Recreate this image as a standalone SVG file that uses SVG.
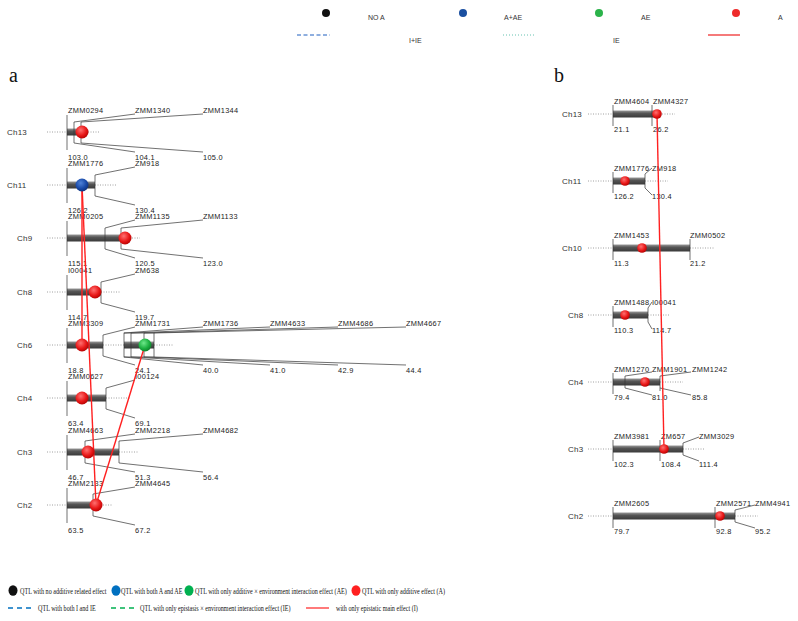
<svg xmlns="http://www.w3.org/2000/svg" width="798" height="621" viewBox="0 0 798 621">
<style>
.t{font-family:"Liberation Sans",Arial,sans-serif;font-size:7.4px;letter-spacing:0.3px;fill:#222}
.ch{font-family:"Liberation Sans",Arial,sans-serif;font-size:8px;letter-spacing:0.2px;fill:#333}
.lg{font-family:"Liberation Sans",Arial,sans-serif;font-size:7px;fill:#333}
.bl{font-family:"Liberation Serif","Times New Roman",serif;font-size:9px;fill:#111}
.pn{font-family:"Liberation Serif","Times New Roman",serif;font-size:20px;fill:#111}
.ln{stroke:#333;stroke-width:0.7;fill:none}
.dt{stroke:#888;stroke-width:0.8;stroke-dasharray:1 1.5;fill:none}
.ep{stroke:#ff2020;stroke-width:1.4;fill:none}
</style>
<defs>
<linearGradient id="bar" x1="0" y1="0" x2="0" y2="1">
<stop offset="0" stop-color="#9a9a9a"/><stop offset="0.4" stop-color="#555"/><stop offset="1" stop-color="#3a3a3a"/>
</linearGradient>
<radialGradient id="red" cx="0.4" cy="0.35" r="0.7">
<stop offset="0" stop-color="#ff7070"/><stop offset="0.6" stop-color="#e81818"/><stop offset="1" stop-color="#b00000"/>
</radialGradient>
<radialGradient id="blue" cx="0.4" cy="0.35" r="0.7">
<stop offset="0" stop-color="#4f82d8"/><stop offset="0.6" stop-color="#1a4aa8"/><stop offset="1" stop-color="#0d2f78"/>
</radialGradient>
<radialGradient id="green" cx="0.4" cy="0.35" r="0.7">
<stop offset="0" stop-color="#6ee88a"/><stop offset="0.6" stop-color="#1cb040"/><stop offset="1" stop-color="#0b7a28"/>
</radialGradient>
</defs>
<rect width="798" height="621" fill="#fff"/>

<g id="top-legend">
<circle cx="326" cy="13" r="4" fill="#111"/><text class="lg" x="368" y="20">NO A</text>
<circle cx="463" cy="13" r="4" fill="#1a4fa0"/><text class="lg" x="504" y="20">A+AE</text>
<circle cx="599" cy="13" r="4" fill="#2bb34a"/><text class="lg" x="641" y="20">AE</text>
<circle cx="736" cy="13" r="4" fill="#ee2b2b"/><text class="lg" x="778" y="20">A</text>
<line x1="297" y1="35" x2="330" y2="35" stroke="#1f5fbf" stroke-width="1" stroke-dasharray="4 2.5"/>
<text class="lg" x="409" y="43">I+IE</text>
<line x1="503" y1="35" x2="536" y2="35" stroke="#66c2b0" stroke-width="1" stroke-dasharray="1 2"/>
<text class="lg" x="613" y="43">IE</text>
<line x1="708" y1="35" x2="740" y2="35" stroke="#ee2020" stroke-width="1.2"/>
</g>

<text class="pn" x="9" y="82">a</text>
<text class="pn" x="554" y="82">b</text>

<g id="a-ch13">
<text class="ch" x="7" y="135">Ch13</text>
<line class="dt" x1="47" y1="132" x2="67" y2="132"/><line class="dt" x1="88" y1="132" x2="100" y2="132"/>
<rect x="67" y="128.5" width="14" height="7" fill="url(#bar)"/>
<path class="ln" d="M67,115V150M74,122V143M81,122V143M74,122L135,114M81,122L203,114M74,143L135,152M81,143L203,152"/>
<text class="t" x="68" y="113">ZMM0294</text><text class="t" x="135" y="113">ZMM1340</text><text class="t" x="203" y="113">ZMM1344</text>
<text class="t" x="68" y="160">103.0</text><text class="t" x="135" y="160">104.1</text><text class="t" x="203" y="160">105.0</text>
</g>
<g id="a-ch11">
<text class="ch" x="7" y="188">Ch11</text>
<line class="dt" x1="47" y1="185" x2="67" y2="185"/><line class="dt" x1="95" y1="185" x2="117" y2="185"/>
<rect x="67" y="181.5" width="28" height="7" fill="url(#bar)"/>
<path class="ln" d="M67,168V203M95,175V196M95,175L135,167M95,196L135,205"/>
<text class="t" x="68" y="166">ZMM1776</text><text class="t" x="135" y="166">ZM918</text>
<text class="t" x="68" y="213">126.2</text><text class="t" x="135" y="213">130.4</text>
</g>
<g id="a-ch9">
<text class="ch" x="17" y="241">Ch9</text>
<line class="dt" x1="47" y1="238" x2="67" y2="238"/><line class="dt" x1="132" y1="238" x2="140" y2="238"/>
<rect x="67" y="234.5" width="54" height="7" fill="url(#bar)"/>
<path class="ln" d="M67,221V256M105,228V249M121,228V249M105,228L135,220M121,228L203,220M105,249L135,258M121,249L203,258"/>
<text class="t" x="68" y="219">ZMM0205</text><text class="t" x="135" y="219">ZMM1135</text><text class="t" x="203" y="219">ZMM1133</text>
<text class="t" x="68" y="266">115.1</text><text class="t" x="135" y="266">120.5</text><text class="t" x="203" y="266">123.0</text>
</g>
<g id="a-ch8">
<text class="ch" x="17" y="295">Ch8</text>
<line class="dt" x1="47" y1="292" x2="67" y2="292"/><line class="dt" x1="101" y1="292" x2="120" y2="292"/>
<rect x="67" y="288.5" width="34" height="7" fill="url(#bar)"/>
<path class="ln" d="M67,275V310M101,282V303M101,282L135,274M101,303L135,312"/>
<text class="t" x="68" y="273">I00041</text><text class="t" x="135" y="273">ZM638</text>
<text class="t" x="68" y="320">114.7</text><text class="t" x="135" y="320">119.7</text>
</g>
<g id="a-ch6">
<text class="ch" x="17" y="348">Ch6</text>
<line class="dt" x1="47" y1="345" x2="67" y2="345"/><line class="dt" x1="103" y1="345" x2="124" y2="345"/><line class="dt" x1="154" y1="345" x2="173" y2="345"/>
<rect x="67" y="341.5" width="36" height="7" fill="url(#bar)"/>
<rect x="124" y="341.5" width="30" height="7" fill="url(#bar)"/>
<path class="ln" d="M67,328V363M103,335V356M103,335L135,327M103,356L135,365"/>
<rect class="ln" x="124" y="333" width="30" height="24"/>
<path class="ln" d="M131,333V357M144,333V357M124,333L203,327M131,333L270,327M144,333L338,327M154,333L406,327M124,357L203,365M131,357L270,365M144,357L338,365M154,357L406,365"/>
<text class="t" x="68" y="326">ZMM3309</text><text class="t" x="135" y="326">ZMM1731</text><text class="t" x="203" y="326">ZMM1736</text><text class="t" x="270" y="326">ZMM4633</text><text class="t" x="338" y="326">ZMM4686</text><text class="t" x="406" y="326">ZMM4667</text>
<text class="t" x="68" y="373">18.8</text><text class="t" x="135" y="373">24.1</text><text class="t" x="203" y="373">40.0</text><text class="t" x="270" y="373">41.0</text><text class="t" x="338" y="373">42.9</text><text class="t" x="406" y="373">44.4</text>
</g>
<g id="a-ch4">
<text class="ch" x="17" y="401">Ch4</text>
<line class="dt" x1="47" y1="398" x2="67" y2="398"/><line class="dt" x1="106" y1="398" x2="130" y2="398"/>
<rect x="67" y="394.5" width="39" height="7" fill="url(#bar)"/>
<path class="ln" d="M67,381V416M106,388V409M106,388L135,380M106,409L135,418"/>
<text class="t" x="68" y="379">ZMM0627</text><text class="t" x="135" y="379">I00124</text>
<text class="t" x="68" y="426">63.4</text><text class="t" x="135" y="426">69.1</text>
</g>
<g id="a-ch3">
<text class="ch" x="17" y="455">Ch3</text>
<line class="dt" x1="47" y1="452" x2="67" y2="452"/><line class="dt" x1="119" y1="452" x2="138" y2="452"/>
<rect x="67" y="448.5" width="52" height="7" fill="url(#bar)"/>
<path class="ln" d="M67,435V470M85,441V463M119,441V463M85,441L135,434M119,441L203,434M85,463L135,472M119,463L203,472"/>
<text class="t" x="68" y="433">ZMM4663</text><text class="t" x="135" y="433">ZMM2218</text><text class="t" x="203" y="433">ZMM4682</text>
<text class="t" x="68" y="480">46.7</text><text class="t" x="135" y="480">51.3</text><text class="t" x="203" y="480">56.4</text>
</g>
<g id="a-ch2">
<text class="ch" x="17" y="508">Ch2</text>
<line class="dt" x1="47" y1="505" x2="67" y2="505"/><line class="dt" x1="103" y1="505" x2="112" y2="505"/>
<rect x="67" y="501.5" width="26" height="7" fill="url(#bar)"/>
<path class="ln" d="M67,488V523M93,494V516M93,494L135,487M93,516L135,525"/>
<text class="t" x="68" y="486">ZMM2133</text><text class="t" x="135" y="486">ZMM4645</text>
<text class="t" x="68" y="533">63.5</text><text class="t" x="135" y="533">67.2</text>
</g>

<g id="b-ch13">
<text class="ch" x="562" y="117">Ch13</text>
<line class="dt" x1="588" y1="114" x2="613" y2="114"/><line class="dt" x1="662" y1="114" x2="675" y2="114"/>
<rect x="613" y="110.5" width="42" height="7" fill="url(#bar)"/>
<path class="ln" d="M613,105V126M652,105V126"/>
<text class="t" x="614" y="104">ZMM4604</text><text class="t" x="653" y="104">ZMM4327</text>
<text class="t" x="614" y="132">21.1</text><text class="t" x="653" y="132">26.2</text>
</g>
<g id="b-ch11">
<text class="ch" x="562" y="184">Ch11</text>
<line class="dt" x1="588" y1="181" x2="613" y2="181"/><line class="dt" x1="645" y1="181" x2="668" y2="181"/>
<rect x="613" y="177.5" width="32" height="7" fill="url(#bar)"/>
<path class="ln" d="M613,172V193M645,174V188M645,174L652,168M645,188L652,195"/>
<text class="t" x="614" y="171">ZMM1776</text><text class="t" x="652" y="171">ZM918</text>
<text class="t" x="614" y="199">126.2</text><text class="t" x="652" y="199">130.4</text>
</g>
<g id="b-ch10">
<text class="ch" x="562" y="251">Ch10</text>
<line class="dt" x1="588" y1="248" x2="613" y2="248"/><line class="dt" x1="690" y1="248" x2="715" y2="248"/>
<rect x="613" y="244.5" width="77" height="7" fill="url(#bar)"/>
<path class="ln" d="M613,239V260M690,239V260"/>
<text class="t" x="614" y="238">ZMM1453</text><text class="t" x="690" y="238">ZMM0502</text>
<text class="t" x="614" y="266">11.3</text><text class="t" x="690" y="266">21.2</text>
</g>
<g id="b-ch8">
<text class="ch" x="568" y="318">Ch8</text>
<line class="dt" x1="588" y1="315" x2="613" y2="315"/><line class="dt" x1="648" y1="315" x2="670" y2="315"/>
<rect x="613" y="311.5" width="35" height="7" fill="url(#bar)"/>
<path class="ln" d="M613,306V327M648,308V322M648,308L652,302M648,322L652,329"/>
<text class="t" x="614" y="305">ZMM1488</text><text class="t" x="652" y="305">I00041</text>
<text class="t" x="614" y="333">110.3</text><text class="t" x="652" y="333">114.7</text>
</g>
<g id="b-ch4">
<text class="ch" x="568" y="385">Ch4</text>
<line class="dt" x1="588" y1="382" x2="613" y2="382"/><line class="dt" x1="660" y1="382" x2="683" y2="382"/>
<rect x="613" y="378.5" width="47" height="7" fill="url(#bar)"/>
<path class="ln" d="M613,373V394M625,376V388M625,376L652,372M625,388L652,395M660,376V391M660,376L691,372M660,388L691,395"/>
<text class="t" x="614" y="372">ZMM1270</text><text class="t" x="652" y="372">ZMM1901</text><text class="t" x="692" y="372">ZMM1242</text>
<text class="t" x="614" y="400">79.4</text><text class="t" x="652" y="400">81.0</text><text class="t" x="692" y="400">85.8</text>
</g>
<g id="b-ch3">
<text class="ch" x="568" y="452">Ch3</text>
<line class="dt" x1="588" y1="449" x2="613" y2="449"/><line class="dt" x1="683" y1="449" x2="705" y2="449"/>
<rect x="613" y="445.5" width="70" height="7" fill="url(#bar)"/>
<path class="ln" d="M613,440V461M660,440V461M683,443V455M683,443L699,437M683,455L699,461"/>
<text class="t" x="614" y="439">ZMM3981</text><text class="t" x="661" y="439">ZM657</text><text class="t" x="699" y="439">ZMM3029</text>
<text class="t" x="614" y="467">102.3</text><text class="t" x="661" y="467">108.4</text><text class="t" x="699" y="467">111.4</text>
</g>
<g id="b-ch2">
<text class="ch" x="568" y="519">Ch2</text>
<line class="dt" x1="588" y1="516" x2="613" y2="516"/><line class="dt" x1="735" y1="516" x2="758" y2="516"/>
<rect x="613" y="512.5" width="122" height="7" fill="url(#bar)"/>
<path class="ln" d="M613,507V528M715,507V528M735,510V522M735,510L755,505M735,522L755,528"/>
<text class="t" x="614" y="506">ZMM2605</text><text class="t" x="716" y="506">ZMM2571</text><text class="t" x="755" y="506">ZMM4941</text>
<text class="t" x="614" y="534">79.7</text><text class="t" x="716" y="534">92.8</text><text class="t" x="755" y="534">95.2</text>
</g>

<g id="connectors">
<line class="ep" x1="82" y1="185" x2="82" y2="345"/>
<line class="ep" x1="82" y1="185" x2="96" y2="505"/>
<line class="ep" x1="145" y1="345" x2="96" y2="505"/>
<line class="ep" x1="657" y1="114" x2="664" y2="449"/>
</g>

<g id="qtls">
<circle cx="82" cy="132" r="6.5" fill="url(#red)"/>
<circle cx="82" cy="185" r="6.5" fill="url(#blue)"/>
<circle cx="125" cy="238" r="6.5" fill="url(#red)"/>
<circle cx="95" cy="292" r="6.5" fill="url(#red)"/>
<circle cx="82" cy="345" r="6.5" fill="url(#red)"/>
<circle cx="145" cy="345" r="6.5" fill="url(#green)"/>
<circle cx="82" cy="398" r="6.5" fill="url(#red)"/>
<circle cx="88" cy="452" r="6.5" fill="url(#red)"/>
<circle cx="96" cy="505" r="6.5" fill="url(#red)"/>
<circle cx="657" cy="114" r="4.8" fill="url(#red)"/>
<circle cx="625" cy="181" r="4.8" fill="url(#red)"/>
<circle cx="642" cy="248" r="4.8" fill="url(#red)"/>
<circle cx="625" cy="315" r="4.8" fill="url(#red)"/>
<circle cx="645" cy="382" r="4.8" fill="url(#red)"/>
<circle cx="664" cy="449" r="4.8" fill="url(#red)"/>
<circle cx="720" cy="516" r="4.8" fill="url(#red)"/>
</g>

<g id="bottom-legend">
<ellipse cx="13" cy="590.5" rx="4.5" ry="5.2" fill="#111"/>
<text class="bl" transform="translate(20,594) scale(0.68,1)">QTL with no additive related effect</text>
<ellipse cx="116" cy="590.5" rx="4.5" ry="5.2" fill="#0070c0"/>
<text class="bl" transform="translate(121,594) scale(0.68,1)">QTL with both A and AE</text>
<ellipse cx="189" cy="590.5" rx="4.5" ry="5.2" fill="#00b050"/>
<text class="bl" transform="translate(195,594) scale(0.68,1)">QTL with only additive × environment interaction effect (AE)</text>
<ellipse cx="356" cy="590.5" rx="4.5" ry="5.2" fill="#ff2020"/>
<text class="bl" transform="translate(362,594) scale(0.68,1)">QTL with only additive effect (A)</text>
<line x1="8" y1="608" x2="32" y2="608" stroke="#0070c0" stroke-width="1.3" stroke-dasharray="5 4"/>
<text class="bl" transform="translate(38,611) scale(0.68,1)">QTL with both I and IE</text>
<line x1="111" y1="608" x2="134" y2="608" stroke="#00b050" stroke-width="1.3" stroke-dasharray="5 4"/>
<text class="bl" transform="translate(140,611) scale(0.68,1)">QTL with only epistasis × environment interaction effect (IE)</text>
<line x1="306" y1="608" x2="329" y2="608" stroke="#ff2020" stroke-width="1.2"/>
<text class="bl" transform="translate(336,611) scale(0.68,1)">with only epistatic main effect (I)</text>
</g>
</svg>
